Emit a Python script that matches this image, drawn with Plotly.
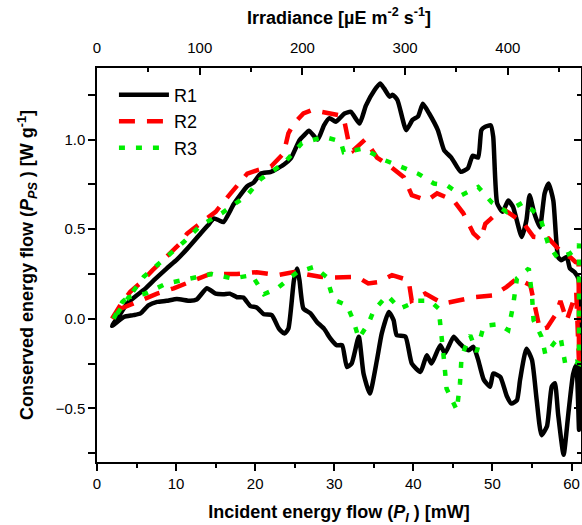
import plotly.graph_objects as go

# ---------------- data ----------------
r1_x = [1.9, 3.0, 3.8, 5.0, 5.9, 7.2, 8.8, 10.1, 11.4, 13.1, 14.0, 14.8, 15.4, 16.0, 17.3, 19.0, 19.8,
        20.7, 22.0, 23.6, 24.5, 25.6, 26.2, 26.8, 27.9, 28.7, 29.4, 30.2, 31.3, 32.1, 33.2, 34.0,
        35.1, 35.8, 36.3, 37.0, 37.4, 38.0, 39.1, 39.9, 40.6, 41.2, 42.0, 43.1, 43.9, 44.8, 46.0,
        46.9, 47.5, 48.2, 48.6, 49.0, 49.8, 50.1, 50.6, 51.3, 52.0, 52.6, 53.7, 54.3, 54.7, 55.3,
        56.0, 56.6, 57.1, 57.7, 58.3, 58.7, 59.4, 59.8, 60.4, 60.9,
        60.95, 60.6, 60.2, 59.6, 59.0, 58.3, 57.9, 57.5, 56.9, 56.2, 55.6, 55.0, 54.3, 53.5, 53.1,
        52.4, 51.8, 51.0, 50.1, 49.7, 48.9, 48.2, 47.6, 47.0, 46.3, 45.7, 45.1, 44.0, 43.4, 42.3,
        41.7, 40.9, 39.8, 39.0, 37.9, 37.5, 36.9, 36.0, 35.4, 34.5, 33.7, 33.1, 32.2, 31.6, 31.0,
        30.3, 29.5, 28.7, 27.8, 27.0, 26.1, 25.6, 25.3, 24.9, 24.2, 23.7, 23.0, 22.1, 21.1, 20.2,
        19.4, 18.5, 17.7, 16.8, 16.0, 15.0, 13.9, 12.6, 11.8, 10.1, 8.8, 7.6, 6.5, 5.5, 4.6, 3.4, 1.9]
r1_y = [-0.04, 0.03, 0.085, 0.13, 0.16, 0.215, 0.28, 0.33, 0.39, 0.476, 0.52, 0.56, 0.55, 0.54, 0.64,
        0.74, 0.76, 0.81, 0.82, 0.86, 0.895, 0.997, 1.025, 1.05, 1.0, 1.08, 1.12, 1.10, 1.146, 1.155,
        1.09, 1.19, 1.277, 1.314, 1.286, 1.24, 1.25, 1.22, 1.053, 1.11, 1.13, 1.20, 1.146, 1.053,
        0.94, 0.90, 0.82, 0.84, 0.91, 0.90, 1.053, 1.07, 1.08, 1.016, 0.644, 0.597, 0.66, 0.625,
        0.457, 0.55, 0.69, 0.588, 0.51, 0.70, 0.755, 0.66, 0.345, 0.327, 0.345, 0.28, 0.26, 0.22,
        -0.62, -0.26, -0.31, -0.53, -0.76, -0.53, -0.36, -0.38, -0.60, -0.65, -0.455, -0.23, -0.167,
        -0.34, -0.455, -0.474, -0.43, -0.325, -0.306, -0.38, -0.34, -0.23, -0.157, -0.176, -0.157,
        -0.13, -0.10, -0.194, -0.148, -0.25, -0.204, -0.297, -0.25, -0.10, -0.092, -0.008, 0.038,
        -0.083, -0.23, -0.418, -0.306, -0.10, -0.25, -0.27, -0.148, -0.148, -0.11, -0.055, -0.018,
        0.03, 0.057, 0.215, 0.28, 0.215, -0.055, -0.083, -0.055, 0.02, 0.025, 0.063, 0.07, 0.118,
        0.12, 0.14, 0.137, 0.14, 0.17, 0.107, 0.10, 0.11, 0.10, 0.094, 0.075, 0.03, 0.02, 0.01, -0.04]

r2_x = [1.9, 3.0, 4.2, 5.5, 7.0, 9.3, 10.5, 11.4, 13.0, 14.4, 15.0, 16.9, 19.0, 20.3, 22.0, 23.6,
        24.2, 24.9, 26.1, 27.2, 29.3, 30.5, 31.2, 31.8, 32.4, 33.9, 35.4, 37.1, 38.8, 39.8, 41.7,
        43.0, 45.1, 46.3, 47.6, 48.5, 49.1, 50.1, 51.6, 53.9, 55.2, 57.1, 58.9, 59.8, 60.5, 60.9,
        60.95, 60.6, 59.4, 58.6, 58.1, 56.9, 56.0, 55.4, 54.8, 53.1, 51.8, 50.1, 47.6, 45.5, 43.8,
        42.6, 41.5, 39.8, 39.4, 37.3, 35.6, 34.3, 32.9, 29.5, 28.2, 24.9, 22.8, 20.2, 17.7, 14.3,
        12.6, 9.7, 7.6, 5.1, 2.5, 1.9]
r2_y = [0.0, 0.08, 0.15, 0.20, 0.27, 0.364, 0.42, 0.476, 0.53, 0.578, 0.597, 0.70, 0.81, 0.83, 0.85,
        0.923, 1.035, 1.09, 1.146, 1.165, 1.146, 1.137, 1.12, 0.99, 0.94, 1.0, 0.90, 0.85, 0.79, 0.69,
        0.66, 0.70, 0.66, 0.59, 0.476, 0.44, 0.53, 0.57, 0.606, 0.535, 0.457, 0.448, 0.364, 0.345,
        0.317, 0.31,
        -0.25, 0.15, -0.01, 0.10, 0.03, -0.05, -0.06, 0.066, 0.187, 0.225, 0.178, 0.13, 0.12, 0.10,
        0.085, 0.113, 0.14, 0.10, 0.215, 0.243, 0.205, 0.197, 0.234, 0.23, 0.234, 0.26, 0.243, 0.26,
        0.25, 0.25, 0.22, 0.17, 0.14, 0.094, 0.047, 0.0]

r3_x = [2.1, 3.2, 4.2, 5.9, 8.8, 11.0, 13.1, 15.8, 19.0, 20.7, 23.6, 25.9, 28.7, 30.8, 31.2, 33.7,
        36.4, 38.3, 40.6, 42.6, 44.2, 46.1, 48.2, 49.9, 51.8, 53.9, 56.0, 57.1, 58.3, 59.8, 60.9,
        60.95, 60.95, 60.5, 59.2, 58.6, 57.9, 56.7, 56.2, 55.2, 55.0, 54.6, 53.1, 52.6, 52.0, 50.8,
        48.9, 48.0, 47.2, 46.1, 45.9, 45.5, 44.2, 43.9, 43.6, 43.2, 42.1, 40.6, 38.3, 36.7, 35.0,
        34.5, 33.9, 33.1, 32.4, 31.6, 29.9, 29.0, 27.5, 25.3, 22.8, 21.1, 19.6, 17.1, 14.5, 11.4,
        8.8, 6.1, 4.0, 2.1]
r3_y = [0.0, 0.094, 0.13, 0.234, 0.345, 0.43, 0.52, 0.59, 0.69, 0.78, 0.867, 0.98, 1.016, 0.99, 0.93,
        0.95, 0.885, 0.85, 0.81, 0.755, 0.746, 0.69, 0.736, 0.65, 0.597, 0.65, 0.57, 0.41, 0.336,
        0.364, 0.40,
        0.42, -0.25, -0.24, -0.25, -0.10, -0.13, -0.20, -0.10, -0.008, 0.13, 0.28, 0.225, 0.07,
        -0.064, -0.03, -0.04, -0.185, -0.092, -0.21, -0.36, -0.51, -0.39, -0.24, -0.092, 0.057,
        0.10, 0.10, 0.057, 0.13, 0.047, -0.008, -0.055, -0.11, -0.008, 0.075, 0.107, 0.234, 0.29,
        0.26, 0.17, 0.137, 0.243, 0.225, 0.25, 0.22, 0.197, 0.14, 0.12, 0.0]

x_range = [0, 61.2]          # incident energy flow [mW]
mw_to_ue = 7.7               # irradiance per mW (top axis)
y_range = [-0.8, 1.4]

FONT = "Liberation Sans, Arial, sans-serif"

fig = go.Figure()
fig.add_trace(go.Scatter(x=r1_x, y=r1_y, name="R1", mode="lines",
                         line=dict(color="black", width=4.5, shape="spline", smoothing=0.5)))
fig.add_trace(go.Scatter(x=r2_x, y=r2_y, name="R2", mode="lines",
                         line=dict(color="#ff0000", width=4.5, dash="16px,12px")))
fig.add_trace(go.Scatter(x=r3_x, y=r3_y, name="R3", mode="lines",
                         line=dict(color="#00ee00", width=4.5, dash="6px,11px")))
# helper traces so that the top and right axes get drawn
fig.add_trace(go.Scatter(x=[0, x_range[1] * mw_to_ue], y=[None, None], xaxis="x2", yaxis="y",
                         showlegend=False, hoverinfo="skip", mode="lines"))
fig.add_trace(go.Scatter(x=[None, None], y=y_range, xaxis="x", yaxis="y2",
                         showlegend=False, hoverinfo="skip", mode="lines"))

axis_common = dict(showline=True, linecolor="black", linewidth=1.5, showgrid=False, zeroline=False,
                   tickcolor="black", tickwidth=1.5, ticklen=7, automargin=False,
                   tickfont=dict(family=FONT, size=15, color="black"))

fig.update_layout(
    width=582, height=525,
    margin=dict(l=97, r=1, t=68, b=63, autoexpand=False),
    paper_bgcolor="white", plot_bgcolor="white",
    font=dict(family=FONT, color="black"),
    xaxis=dict(range=x_range, dtick=10, ticks="outside",
               minor=dict(dtick=5, ticks="outside", ticklen=4, tickcolor="black", tickwidth=1.5),
               title=dict(text="<b>Incident energy flow (<i>P</i><sub><i>I</i></sub> ) [mW]</b>",
                          font=dict(family=FONT, size=18, color="black"), standoff=16),
               **axis_common),
    xaxis2=dict(range=[0, x_range[1] * mw_to_ue], overlaying="x", side="top", anchor="y",
                dtick=100, ticks="inside", ticklabelstandoff=7,
                minor=dict(dtick=50, ticks="inside", ticklen=4, tickcolor="black", tickwidth=1.5),
                title=dict(text="<b>Irradiance [µE m<sup>-2</sup> s<sup>-1</sup>]</b>",
                           font=dict(family=FONT, size=18, color="black"), standoff=10),
               **axis_common),
    yaxis=dict(range=y_range, dtick=0.5, tickformat=".1f", ticks="outside",
               minor=dict(dtick=0.25, ticks="outside", ticklen=7, tickcolor="black", tickwidth=1.5),
               title=dict(text="<b>Conserved energy flow (<i>P</i><sub><i>PS</i></sub> ) [W g<sup>-1</sup>]</b>",
                          font=dict(family=FONT, size=18, color="black"), standoff=17),
               **axis_common),
    yaxis2=dict(range=y_range, overlaying="y", side="right", anchor="x", dtick=0.5,
                ticks="inside", showticklabels=False,
                minor=dict(dtick=0.25, ticks="inside", ticklen=4, tickcolor="black", tickwidth=1.5),
                **axis_common),
    legend=dict(x=0.035, y=0.978, xanchor="left", yanchor="top", bgcolor="rgba(0,0,0,0)",
                font=dict(family=FONT, size=18, color="black"), itemwidth=50, tracegroupgap=0),
    showlegend=True,
)

fig.write_html("out.html", config={"displayModeBar": False},
               post_script="document.body.style.margin='0';document.body.style.padding='0';")
